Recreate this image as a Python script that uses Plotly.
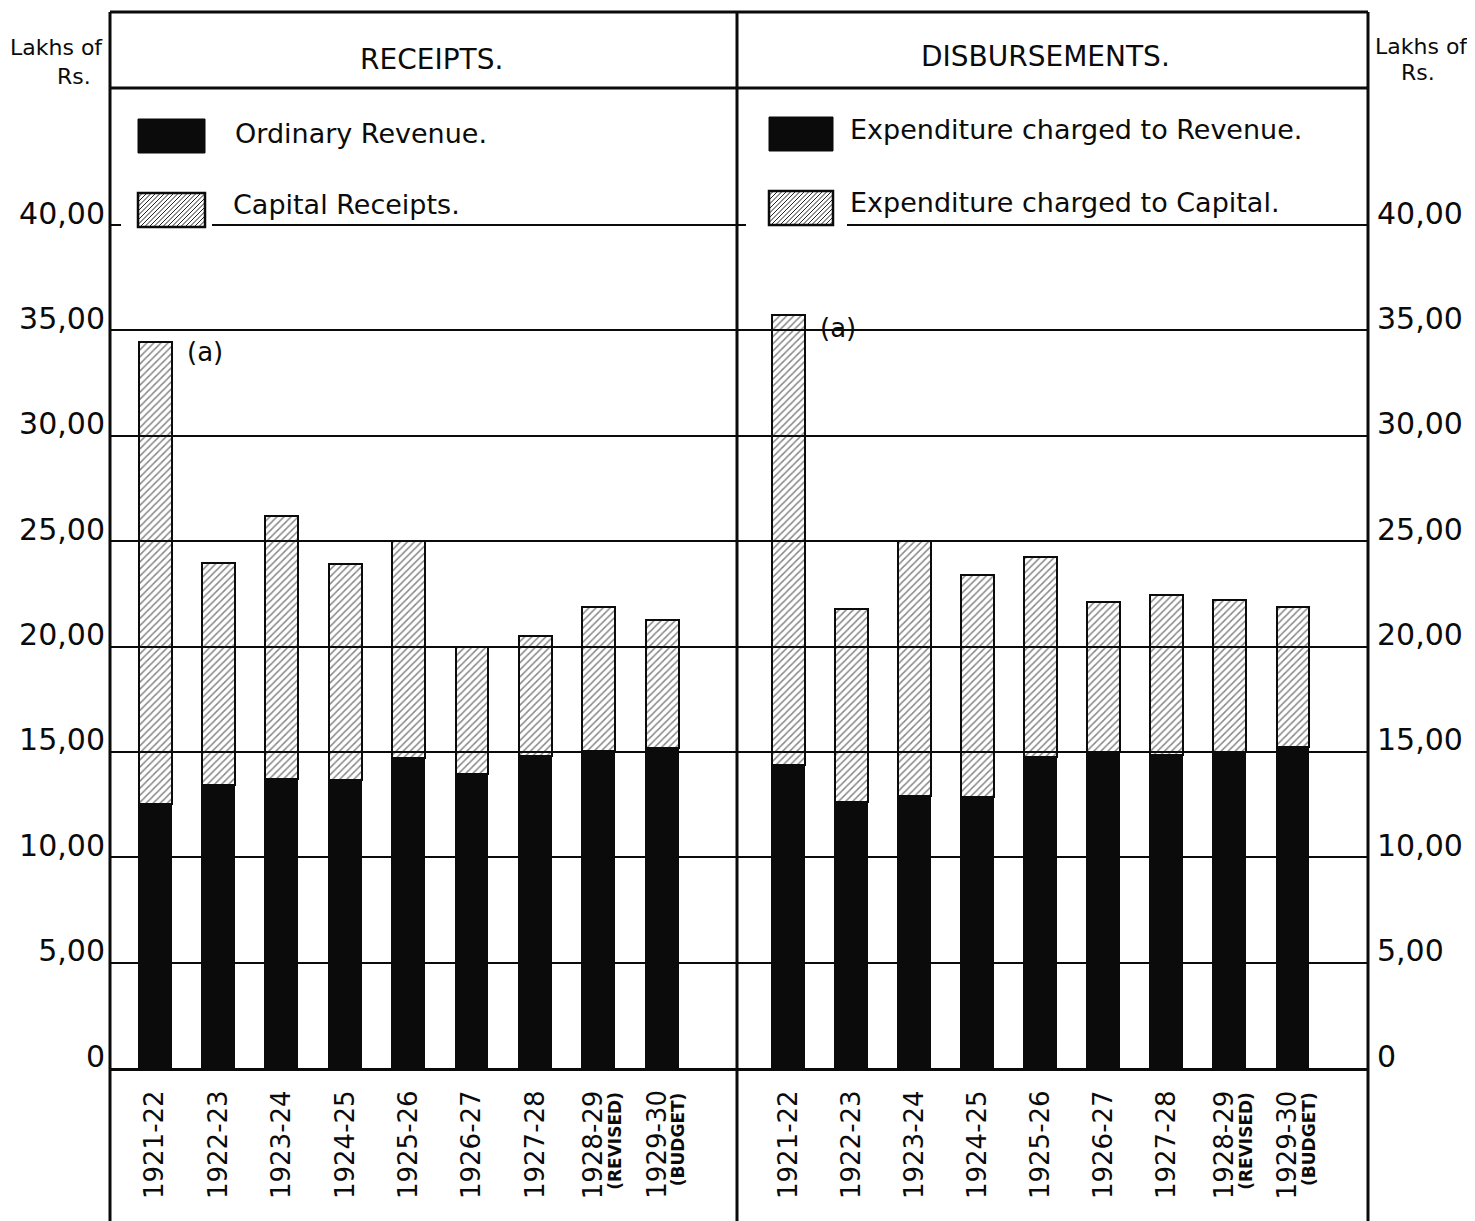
import plotly.graph_objects as go

# ---------------- data (lakhs of Rs.) ----------------
years = ["1921-22", "1922-23", "1923-24", "1924-25", "1925-26",
         "1926-27", "1927-28", "1928-29", "1929-30"]
# last two years carry an extra note; they are written as annotations below
year_ticktext = ["1921-22", "1922-23", "1923-24", "1924-25", "1925-26",
                 "1926-27", "1927-28", "", ""]
year_notes = {"1928-29": "(REVISED)", "1929-30": "(BUDGET)"}

receipts_ordinary = [1254, 1344, 1371, 1366, 1469, 1397, 1482, 1505, 1520]
receipts_capital = [2191, 1054, 1247, 1027, 1031, 603, 566, 683, 606]

disb_revenue = [1436, 1264, 1290, 1288, 1477, 1500, 1486, 1500, 1524]
disb_capital = [2139, 915, 1210, 1053, 948, 713, 759, 721, 664]

tick_vals = [0, 500, 1000, 1500, 2000, 2500, 3000, 3500, 4000]
tick_text = ["0", "5,00", "10,00", "15,00", "20,00", "25,00", "30,00", "35,00", "40,00"]

# ---------------- geometry helpers (page pixels) ----------------
OFF = 8                      # default body margin of the html page
PAGE_W, PAGE_H = 1475, 1221
W, H = PAGE_W - OFF, PAGE_H - OFF
L, R, T, B = 110, 1368, 12, 1068      # plot frame in page pixels


def px(X):
    return (X - L) / (R - L)


def py(Y):
    return (B - Y) / (B - T)


FONT = "DejaVu Sans"
BLACK = "#0b0b0b"

fig = go.Figure()

dark = dict(color=BLACK, line=dict(color=BLACK, width=1))
hatch = dict(color="rgba(0,0,0,0)",
             line=dict(color=BLACK, width=2.5),
             pattern=dict(shape="/", fgcolor="#111111", bgcolor="rgba(0,0,0,0)",
                          size=5, solidity=0.3))

fig.add_bar(x=years, y=receipts_ordinary, marker=dark, width=0.52,
            xaxis="x", yaxis="y", name="Ordinary Revenue.", showlegend=False)
fig.add_bar(x=years, y=receipts_capital, marker=hatch, width=0.52,
            xaxis="x", yaxis="y", name="Capital Receipts.", showlegend=False)
fig.add_bar(x=years, y=disb_revenue, marker=dark, width=0.52,
            xaxis="x2", yaxis="y2", name="Expenditure charged to Revenue.", showlegend=False)
fig.add_bar(x=years, y=disb_capital, marker=hatch, width=0.52,
            xaxis="x2", yaxis="y2", name="Expenditure charged to Capital.", showlegend=False)

split = px(737)
ytop = 4000 * (B - T) / (B - 225)

xcommon = dict(showline=True, linecolor=BLACK, linewidth=3, showgrid=False,
               zeroline=False, tickangle=-90, ticks="", ticklabelstandoff=9,
               tickvals=years, ticktext=year_ticktext,
               tickfont=dict(family=FONT, size=26, color=BLACK), fixedrange=True)
ycommon = dict(range=[0, ytop], tickvals=tick_vals, ticktext=tick_text,
               showgrid=True, gridcolor=BLACK, gridwidth=2, zeroline=False,
               showline=False, ticks="", ticklabelshift=-12,
               tickfont=dict(family=FONT, size=30, color=BLACK), fixedrange=True)

fig.update_layout(
    width=W, height=H,
    margin=dict(l=L - OFF, r=PAGE_W - R, t=T - OFF, b=PAGE_H - B, pad=0),
    paper_bgcolor="white", plot_bgcolor="white",
    barmode="stack", bargap=0,
    xaxis=dict(domain=[0, split], range=[-0.71, 9.18], anchor="y", **xcommon),
    xaxis2=dict(domain=[split, 1], range=[-0.81, 9.19], anchor="y2", **xcommon),
    yaxis=dict(anchor="x", side="left", ticklabelstandoff=4, **ycommon),
    yaxis2=dict(anchor="x2", side="right", matches="y", ticklabelstandoff=8, **ycommon),
)

shapes = []
line = dict(color=BLACK, width=3)
# outer frame and divider lines
for X in (L, 737, R):
    shapes.append(dict(type="line", xref="paper", yref="paper",
                       x0=px(X), x1=px(X), y0=py(PAGE_H), y1=py(T), line=line, layer="above"))
for Y in (T, 88):
    shapes.append(dict(type="line", xref="paper", yref="paper",
                       x0=0, x1=1, y0=py(Y), y1=py(Y), line=line, layer="above"))

# gaps in the 40,00 line next to the legend swatches
for x0, x1 in ((121, 212), (746, 847)):
    shapes.append(dict(type="rect", xref="paper", yref="paper",
                       x0=px(x0), x1=px(x1), y0=py(229), y1=py(221),
                       fillcolor="white", line=dict(width=0), layer="above"))


def hatch_path(x0, y0, x1, y1, step=4.5):
    segs = []
    w, h = x1 - x0, y1 - y0
    k = -h
    while k < w:
        ax, ay = x0 + k, y1
        bx, by = x0 + k + h, y0
        if ax < x0:
            ay = y1 - (x0 - ax)
            ax = x0
        if bx > x1:
            by = y0 + (bx - x1)
            bx = x1
        segs.append(f"M{px(ax)},{py(ay)} L{px(bx)},{py(by)}")
        k += step
    return " ".join(segs)


swatches = [((138, 119, 205, 153), True), ((138, 193, 205, 227), False),
            ((769, 117, 833, 151), True), ((769, 191, 833, 225), False)]
for (x0, y0, x1, y1), solid in swatches:
    if solid:
        shapes.append(dict(type="rect", xref="paper", yref="paper",
                           x0=px(x0), x1=px(x1), y0=py(y1), y1=py(y0),
                           fillcolor=BLACK, line=dict(color=BLACK, width=1), layer="above"))
    else:
        shapes.append(dict(type="rect", xref="paper", yref="paper",
                           x0=px(x0), x1=px(x1), y0=py(y1), y1=py(y0),
                           fillcolor="white", line=dict(width=0), layer="above"))
        shapes.append(dict(type="path", xref="paper", yref="paper",
                           path=hatch_path(x0, y0, x1, y1),
                           line=dict(color="#222222", width=1), layer="above"))
        shapes.append(dict(type="rect", xref="paper", yref="paper",
                           x0=px(x0), x1=px(x1), y0=py(y1), y1=py(y0),
                           fillcolor="rgba(0,0,0,0)", line=dict(color=BLACK, width=2.5),
                           layer="above"))

fig.update_layout(shapes=shapes)

ann = []


def text(t, X, Y, size, xanchor="left", bold=False):
    ann.append(dict(text=f"<b>{t}</b>" if bold else t, x=px(X), y=py(Y),
                    xref="paper", yref="paper",
                    xanchor=xanchor, yanchor="middle", showarrow=False,
                    font=dict(family=FONT, size=size, color=BLACK)))


text("RECEIPTS.", 431, 60, 28, "center")
text("DISBURSEMENTS.", 1045, 57, 28, "center")
text("Ordinary Revenue.", 233, 133, 27)
text("Capital Receipts.", 231, 205, 27)
text("Expenditure charged to Revenue.", 848, 130, 27)
text("Expenditure charged to Capital.", 848, 202, 27)
text("Lakhs of", 105, 48, 22, "right")
text("Rs.", 93, 77, 22, "right")
text("Lakhs of", 1373, 46, 22, "left")
text("Rs.", 1418, 73, 22, "center")
text("(a)", 205, 352, 26, "center")
text("(a)", 838, 328, 26, "center")

# year labels carrying notes (REVISED / BUDGET), on both panels
for xa in ("x", "x2"):
    for yr, note in year_notes.items():
        ann.append(dict(text=yr, x=yr, xref=xa, y=py(1088), yref="paper",
                        xanchor="center", yanchor="top", xshift=-6, textangle=-90,
                        showarrow=False, font=dict(family=FONT, size=26, color=BLACK)))
        ann.append(dict(text=f"<b>{note}</b>", x=yr, xref=xa, y=py(1090), yref="paper",
                        xanchor="center", yanchor="top", xshift=16, textangle=-90,
                        showarrow=False, font=dict(family=FONT, size=17, color=BLACK)))

fig.update_layout(annotations=ann)

fig.write_html("out.html")
